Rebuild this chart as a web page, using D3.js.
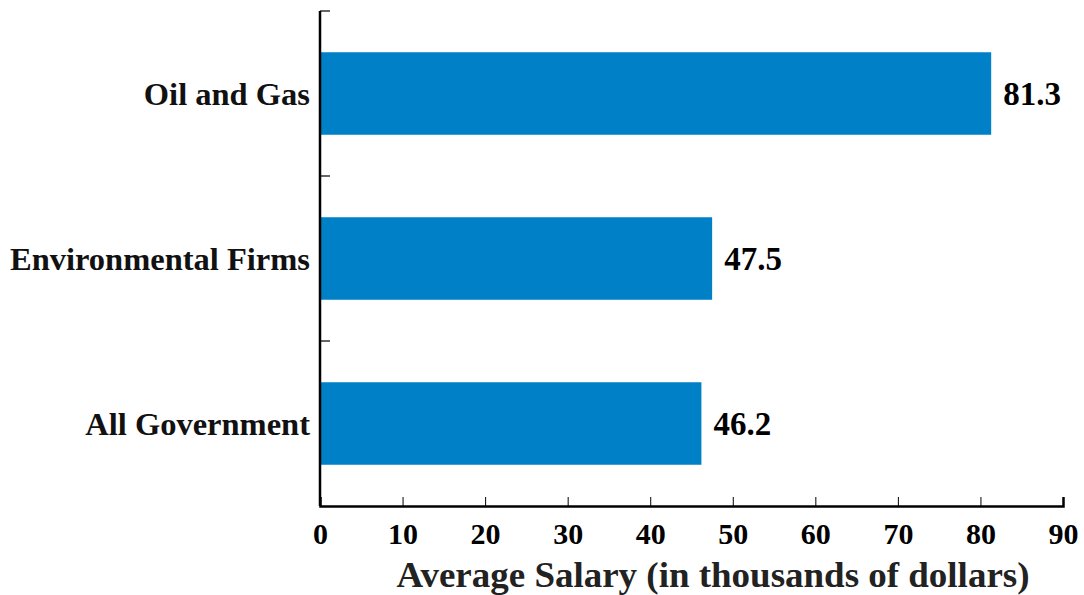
<!DOCTYPE html>
<html><head><meta charset="utf-8">
<script src="https://cdn.jsdelivr.net/npm/d3@7"></script>
<style>body{margin:0;background:#fff}</style>
</head><body>
<svg id="c" width="1084" height="595"></svg>
<script>
const categories = ["Oil and Gas", "Environmental Firms", "All Government"];
const values = [81.3, 47.5, 46.2];
const xTicks = [0,10,20,30,40,50,60,70,80,90];
const xTitle = "Average Salary (in thousands of dollars)";

(function(){
const svg = d3.select("#c");
const L = 320, R = 1063, T = 11, B = 506;
const x = d3.scaleLinear().domain([0, 90]).range([L, R]);
const y = d3.scaleBand().domain(categories).range([T, B]).paddingInner(0.5).paddingOuter(0.25);

const serif = "'Liberation Serif', 'DejaVu Serif', serif";

svg.selectAll("rect.bar").data(values).join("rect")
  .attr("class","bar")
  .attr("x", x(0))
  .attr("y", (d,i)=>y(categories[i]))
  .attr("width", d=>x(d)-x(0))
  .attr("height", y.bandwidth())
  .attr("fill", "#0080C6");

const xa = svg.append("g").attr("transform",`translate(0,${B})`)
  .call(d3.axisBottom(x).tickValues(xTicks).tickSize(-9).tickSizeOuter(-9).tickPadding(0).tickFormat(d3.format("d")));
xa.select(".domain").attr("stroke","#000").attr("stroke-width",2.5);
xa.selectAll(".tick line").attr("stroke","#000").attr("stroke-width",1);
xa.selectAll(".tick text").attr("font-family",serif).attr("font-weight","bold").attr("font-size",30).attr("fill","#000").attr("dy","1.25em");

const yEdges = d3.range(categories.length+1).map(i => T + i*(B-T)/categories.length);
svg.append("line").attr("x1",L).attr("x2",L).attr("y1",T).attr("y2",B).attr("stroke","#000").attr("stroke-width",2.5);
svg.selectAll("line.yt").data(yEdges.slice(0,-1)).join("line").attr("class","yt")
  .attr("x1",L).attr("x2",L+10).attr("y1",d=>d).attr("y2",d=>d).attr("stroke","#000").attr("stroke-width",1.2);

svg.selectAll("text.cat").data(categories).join("text").attr("class","cat")
  .attr("x", L-10).attr("y", d=>y(d)+y.bandwidth()/2)
  .attr("dy","0.35em").attr("text-anchor","end")
  .attr("font-family",serif).attr("font-weight","bold").attr("font-size",32.5).attr("fill","#111")
  .text(d=>d);

svg.selectAll("text.val").data(values).join("text").attr("class","val")
  .attr("x", d=>x(d)+12).attr("y",(d,i)=>y(categories[i])+y.bandwidth()/2)
  .attr("dy","0.35em")
  .attr("font-family",serif).attr("font-weight","bold").attr("font-size",33).attr("fill","#000")
  .text(d=>d.toFixed(1));

svg.append("text").attr("x",713).attr("y",587).attr("text-anchor","middle")
  .attr("font-family",serif).attr("font-weight","bold").attr("font-size",35).attr("fill","#222")
  .attr("textLength",633).attr("lengthAdjust","spacingAndGlyphs")
  .text(xTitle);
})();
</script>
</body></html>
